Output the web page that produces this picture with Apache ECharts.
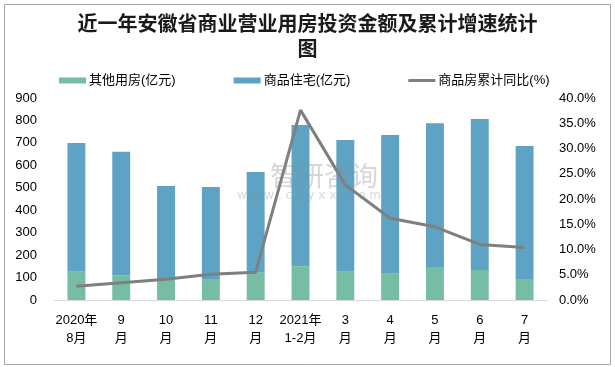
<!DOCTYPE html>
<html>
<head>
<meta charset="utf-8">
<script src="https://cdn.jsdelivr.net/npm/echarts@6/dist/echarts.min.js"></script>
<style>
html,body{margin:0;padding:0;background:#fff;}
#c{width:615px;height:367px;}
</style>
</head>
<body>
<div id="c"></div>
<script>
var titleText = '近一年安徽省商业营业用房投资金额及累计增速统计\n图';
var categories = ['2020年\n8月', '9\n月', '10\n月', '11\n月', '12\n月', '2021年\n1-2月', '3\n月', '4\n月', '5\n月', '6\n月', '7\n月'];
var otherUse = [129, 111, 89, 94, 123, 151, 129, 120, 147, 134, 94];
var residential = [571, 550, 419, 409, 447, 629, 584, 615, 641, 672, 592];
var cumulativeGrowth = [2.7, 3.4, 4.1, 5.1, 5.5, 37.6, 22.8, 16.2, 14.5, 11.0, 10.4];
var seriesNames = ['其他用房(亿元)', '商品住宅(亿元)', '商品房累计同比(%)'];
var leftTicks = [0, 900, 100];
var rightTicks = [0, 40, 5];

var cjk = '"Liberation Sans", "Noto Sans CJK SC", sans-serif';
var chart = echarts.init(document.getElementById('c'), null, {renderer: 'canvas'});
chart.setOption({
  backgroundColor: '#fff',
  animation: false,
  title: {
    text: titleText,
    left: 'center',
    top: 11,
    padding: 0,
    textStyle: {fontFamily: '"Noto Sans CJK SC", sans-serif', fontWeight: 'bold', fontSize: 20, lineHeight: 25, color: '#1a1a1a'}
  },
  legend: {
    top: 74,
    left: 59,
    padding: 0,
    itemGap: 58,
    itemWidth: 27,
    itemHeight: 6,
    textStyle: {fontFamily: cjk, fontSize: 13, color: '#000', padding: [0, 0, 0, -2]},
    data: [
      {name: seriesNames[0], icon: 'rect'},
      {name: seriesNames[1], icon: 'rect'},
      {name: seriesNames[2], icon: 'path://M0,0 L27,0 L27,3 L0,3 Z', itemStyle: {color: '#7f7f7f', borderWidth: 0}}
    ]
  },
  grid: {left: 54, right: 68, top: 98, bottom: 67, containLabel: false},
  xAxis: {
    type: 'category',
    data: categories,
    axisLine: {lineStyle: {color: '#d9d9d9', width: 1}},
    axisTick: {show: false},
    axisLabel: {fontFamily: cjk, fontSize: 13, color: '#000', lineHeight: 18, margin: 11, interval: 0}
  },
  yAxis: [
    {
      type: 'value', min: leftTicks[0], max: leftTicks[1], interval: leftTicks[2],
      splitLine: {show: false}, axisLine: {show: false}, axisTick: {show: false},
      axisLabel: {fontFamily: cjk, fontSize: 13, color: '#000', margin: 17}
    },
    {
      type: 'value', min: rightTicks[0], max: rightTicks[1], interval: rightTicks[2],
      splitLine: {show: false}, axisLine: {show: false}, axisTick: {show: false},
      axisLabel: {fontFamily: cjk, fontSize: 13, color: '#000', margin: 12,
        formatter: function (v) { return v.toFixed(1) + '%'; }}
    }
  ],
  series: [
    {
      name: seriesNames[0], type: 'bar', stack: 'total', data: otherUse,
      barWidth: '40%', itemStyle: {color: '#76bda3'}
    },
    {
      name: seriesNames[1], type: 'bar', stack: 'total', data: residential,
      barWidth: '40%', itemStyle: {color: '#5ea3c3'}
    },
    {
      name: seriesNames[2], type: 'line', yAxisIndex: 1, data: cumulativeGrowth,
      symbol: 'none', lineStyle: {color: '#7f7f7f', width: 3}, itemStyle: {color: '#7f7f7f'}, z: 5
    }
  ],
  graphic: [
    {type: 'rect', left: 2, top: 2, z: -1, shape: {width: 606, height: 360}, style: {fill: 'none', stroke: '#a6a6a6', lineWidth: 1}},
    {type: 'text', left: 270, top: 162, z: 10, silent: true, style: {text: '智研咨询', font: '27px "Noto Sans CJK SC"', fill: 'rgba(140,140,140,0.35)'}},
    {type: 'text', left: 237, top: 190, z: 10, silent: true, style: {text: 'w w w . c h y x x . c o m', font: '12px "DejaVu Sans"', fill: 'rgba(140,140,140,0.35)'}}
  ]
});
</script>
</body>
</html>
